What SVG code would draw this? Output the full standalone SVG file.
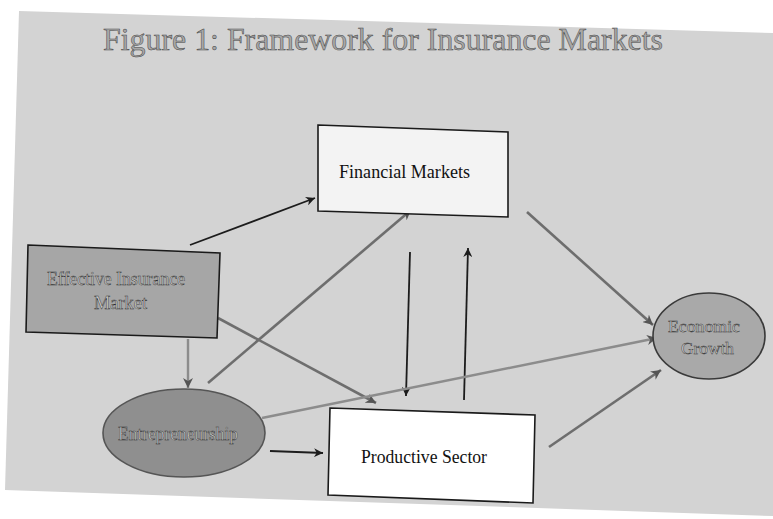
<svg xmlns="http://www.w3.org/2000/svg" width="773" height="519" viewBox="0 0 773 519">
  <style>
    .node { stroke: #1a1a1a; stroke-width: 1.6; }
    .lbl { font-family: "Liberation Serif", serif; fill: #111; }
    .emb { font-family: "Liberation Serif", serif; fill: #cfcfcf; stroke: #2e2e2e; stroke-width: 0.45; }
    .dark { stroke: #1c1c1c; stroke-width: 1.8; fill: none; }
    .grey { stroke: #6e6e6e; stroke-width: 2.6; fill: none; }
    .light { stroke: #8c8c8c; stroke-width: 2.4; fill: none; }
  </style>
  <defs>
    <marker id="ahDark" viewBox="0 0 10 10" refX="10" refY="5" markerWidth="9" markerHeight="9" markerUnits="userSpaceOnUse" orient="auto">
      <path d="M0,0 L10,5 L0,10 L3,5 z" fill="#1c1c1c"/>
    </marker>
    <marker id="ahGrey" viewBox="0 0 10 10" refX="10" refY="5" markerWidth="10" markerHeight="10" markerUnits="userSpaceOnUse" orient="auto">
      <path d="M0,0 L10,5 L0,10 L3,5 z" fill="#555"/>
    </marker>
  </defs>

  <rect x="0" y="0" width="773" height="519" fill="#ffffff"/>
  <polygon id="slide" points="19,11 773,33 773,516 5,490" fill="#d3d3d3"/>

  <text id="title" x="103" y="50" font-size="31" textLength="560" lengthAdjust="spacingAndGlyphs" class="emb" style="fill:#a8a8a8;stroke:#444;stroke-width:0.5">Figure 1: Framework for Insurance Markets</text>

  <g id="connectors">
    <line class="dark" x1="190" y1="245" x2="315" y2="198" marker-end="url(#ahDark)"/>
    <line class="grey" x1="208" y1="383" x2="411" y2="210" marker-end="url(#ahGrey)"/>
    <line class="grey" x1="218" y1="318" x2="376" y2="403" marker-end="url(#ahGrey)"/>
    <line class="light" x1="188" y1="339" x2="188" y2="388" marker-end="url(#ahGrey)"/>
    <line class="dark" x1="410" y1="252" x2="406" y2="396" marker-end="url(#ahDark)"/>
    <line class="dark" x1="464" y1="400" x2="468" y2="248" marker-end="url(#ahDark)"/>
    <line class="grey" x1="527" y1="212" x2="653" y2="325" marker-end="url(#ahGrey)"/>
    <line class="light" x1="262" y1="418" x2="657" y2="338" marker-end="url(#ahGrey)"/>
    <line class="grey" x1="549" y1="447" x2="661" y2="370" marker-end="url(#ahGrey)"/>
    <line class="dark" x1="270" y1="451" x2="323" y2="453" marker-end="url(#ahDark)"/>
  </g>

  <g id="financial-markets">
    <polygon class="node" points="318,125 508,132 508,217 318,211" fill="#f3f3f3"/>
    <text class="lbl" x="339" y="178" font-size="19" textLength="131" lengthAdjust="spacingAndGlyphs">Financial Markets</text>
  </g>

  <g id="effective-insurance-market">
    <polygon class="node" points="28,245 220,253 217,338 26,332" fill="#a6a6a6"/>
    <text class="emb" x="47" y="285" font-size="18" textLength="138" lengthAdjust="spacingAndGlyphs">Effective Insurance</text>
    <text class="emb" x="94" y="309" font-size="18" textLength="53" lengthAdjust="spacingAndGlyphs">Market</text>
  </g>

  <g id="entrepreneurship">
    <ellipse class="node" cx="184" cy="433" rx="81" ry="44" fill="#8f8f8f" style="stroke:#555"/>
    <text class="emb" x="118" y="440" font-size="18" textLength="120" lengthAdjust="spacingAndGlyphs">Entrepreneurship</text>
  </g>

  <g id="economic-growth">
    <ellipse class="node" cx="709" cy="336" rx="56" ry="43" fill="#a9a9a9" style="stroke:#3a3a3a"/>
    <text class="emb" x="668" y="332" font-size="17" textLength="72" lengthAdjust="spacingAndGlyphs">Economic</text>
    <text class="emb" x="681" y="354" font-size="17" textLength="53" lengthAdjust="spacingAndGlyphs">Growth</text>
  </g>

  <g id="productive-sector">
    <polygon class="node" points="330,408 535,415 533,503 328,495" fill="#ffffff"/>
    <text class="lbl" x="361" y="463" font-size="18" textLength="126" lengthAdjust="spacingAndGlyphs">Productive Sector</text>
  </g>
</svg>
